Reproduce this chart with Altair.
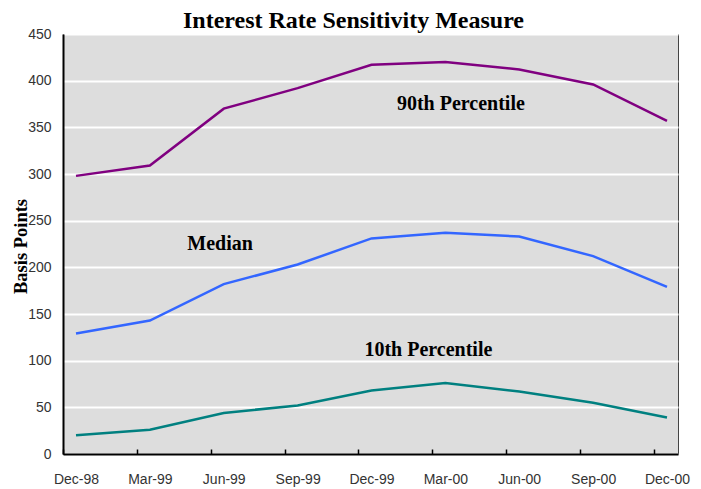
import json
import altair as alt
import pandas as pd

# ---- data ----
months = ["Dec-98", "Mar-99", "Jun-99", "Sep-99", "Dec-99", "Mar-00", "Jun-00", "Sep-00", "Dec-00"]
p90 = [298, 309, 370, 392, 417, 420, 412, 396, 357]
median = [129, 143, 182, 203, 231, 237, 233, 212, 179]
p10 = [20, 26, 44, 52, 68, 76, 67, 55, 39]

series_names = ["90th Percentile", "Median", "10th Percentile"]
series_colors = ["#800080", "#3366ff", "#008080"]

label_texts = ["90th Percentile", "Median", "10th Percentile"]
label_x = [5.21, 1.95, 4.77]
label_y = [369, 219, 105]
y_ticks = [0, 50, 100, 150, 200, 250, 300, 350, 400, 450]

rows = []
for name, vals in zip(series_names, [p90, median, p10]):
    for i, (m, v) in enumerate(zip(months, vals)):
        rows.append({"series": name, "idx": i, "month": m, "value": v})
df = pd.DataFrame(rows)
ann = pd.DataFrame({"text": label_texts, "idx": label_x, "value": label_y})

W, H = 615, 420
narrow = "Liberation Sans Narrow, Liberation Sans, sans-serif"
serif = "Liberation Serif, Times New Roman, serif"

xscale = alt.Scale(domain=[-0.176, 8.149], nice=False, zero=False)
yscale = alt.Scale(domain=[0, 450], nice=False, zero=True)

yaxis = alt.Axis(values=y_ticks, grid=True, gridColor="white", gridWidth=2,
                 ticks=False, domainColor="black", domainWidth=2,
                 labelFont=narrow, labelFontSize=14, labelColor="#333333",
                 labelPadding=12,
                 titleFont=serif, titleFontSize=18.5, titleFontWeight="bold",
                 titleColor="black", titleAngle=270, titleX=-37, titleY=212,
                 titleAlign="center", titleBaseline="alphabetic")

label_expr = json.dumps(months) + "[datum.value]"

lines = alt.Chart(df).mark_line(strokeWidth=2.5).encode(
    x=alt.X("idx:Q", scale=xscale, title=None,
            axis=alt.Axis(orient="bottom", values=list(range(len(months))),
                          labelExpr=label_expr, ticks=False, grid=False,
                          domainColor="black", domainWidth=2,
                          labelFont=narrow, labelFontSize=14, labelColor="#333333",
                          labelPadding=18, labelOverlap=False, labelFlush=False)),
    y=alt.Y("value:Q", scale=yscale, title="Basis Points", axis=yaxis),
    color=alt.Color("series:N", scale=alt.Scale(domain=series_names, range=series_colors),
                    legend=None),
    detail="series:N",
)

texts = alt.Chart(ann).mark_text(font=serif, fontWeight="bold", fontSize=20,
                                 color="black", baseline="alphabetic", align="center").encode(
    x=alt.X("idx:Q", scale=xscale, title=None,
            axis=alt.Axis(orient="top", offset=-H, values=list(range(len(months))),
                          labels=False, domain=False, grid=False, ticks=True,
                          tickSize=5, tickColor="black", tickWidth=1.5, tickOffset=-13)),
    y=alt.Y("value:Q", scale=yscale, title="Basis Points", axis=yaxis),
    text="text:N",
)

chart = alt.layer(lines, texts).resolve_axis(x="independent").properties(
    width=W, height=H,
    autosize="none",
    padding={"left": 55, "top": 26, "right": 15, "bottom": 33},
    title=alt.TitleParams("Interest Rate Sensitivity Measure", font=serif, fontSize=24,
                          fontWeight="bold", color="black", anchor="middle",
                          frame="group", dx=-17, offset=-6),
).configure_view(fill="#dddddd", stroke="#444444", strokeWidth=1)

chart.save("out.html", embed_options={"renderer": "svg", "actions": False})
